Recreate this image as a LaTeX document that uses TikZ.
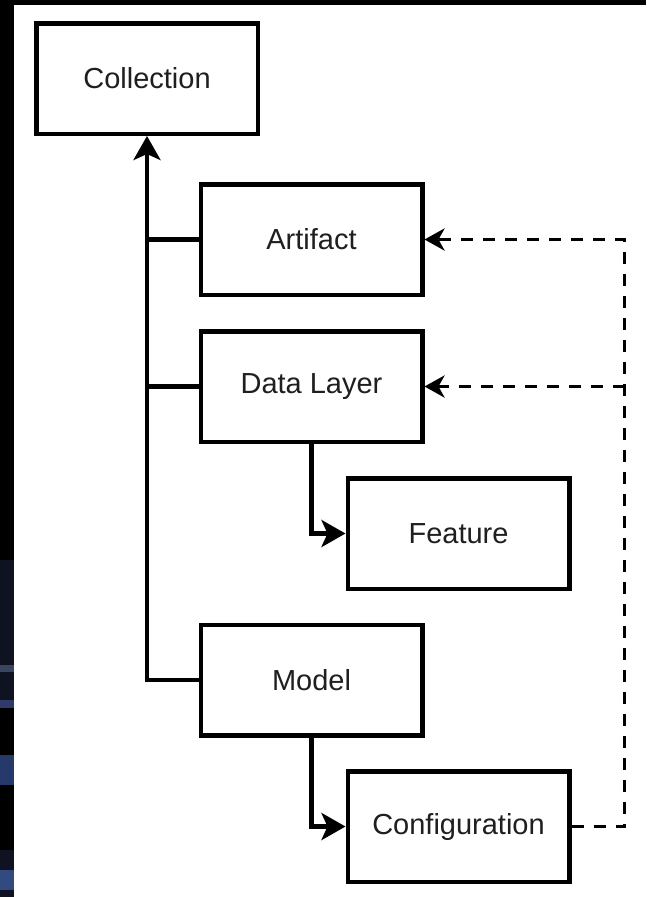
\documentclass[tikz,border=0pt]{standalone}
\usepackage{fontspec}
\setmainfont{Liberation Sans}
\usetikzlibrary{arrows.meta}

\definecolor{bandA}{HTML}{0F1220}
\definecolor{bandB}{HTML}{3A4560}
\definecolor{bandC}{HTML}{2D3A6A}
\definecolor{bandD}{HTML}{25396A}
\definecolor{bandE}{HTML}{334A80}

\tikzset{
  box/.style={draw, line width=4.5pt, minimum width=221.5pt, minimum height=110.5pt,
    inner sep=0pt, font=\fontsize{29}{34}\selectfont, text=black!88},
  tree/.style={line width=4.3pt, -{Stealth[length=24pt,width=27pt,inset=6pt]}},
  link/.style={line width=3.8pt, dash pattern=on 12pt off 10pt,
    -{Stealth[length=20pt,width=22pt,inset=6pt]}}
}

\begin{document}
\begin{tikzpicture}[x=1pt,y=-1pt]
\useasboundingbox (0,0) rectangle (646,897);
% background and the dark frame on the left
\fill[white] (0,0) rectangle (646,897);
\fill[black] (0,0) rectangle (646,5);
\fill[black] (0,0) rectangle (14,897);
\foreach \ya/\yb/\c in {560/665/bandA, 665/672/bandB, 672/700/bandA, 700/708/bandC,
    755/785/bandD, 850/870/bandA, 870/890/bandE, 890/897/bandA} {%
    \fill[\c] (0,\ya) rectangle (14,\yb);
}
% boxes
\foreach \n/\x/\y/\A in {col/147/78.5/Collection, art/311.5/239.5/Artifact,
    dat/311.5/386.5/Data Layer, fea/458.5/533.5/Feature,
    mod/311.5/680/Model, cfg/458.5/826.5/Configuration} {%
    \node[box] (\n) at (\x,\y) {\A};
}
% hierarchy
\draw[tree] (mod.west) -| (col.south);
\draw[line width=4.3pt] (art.west) -- (art.west -| col.south);
\draw[line width=4.3pt] (dat.west) -- (dat.west -| col.south);
\draw[tree] (dat.south) |- (fea.west);
\draw[tree] (mod.south) |- (cfg.west);
% configuration links
\draw[link] (cfg.east) -- ++(53,0) coordinate (turn) |- (art.east);
\draw[link] (turn |- dat.east) -- (dat.east);
\end{tikzpicture}
\end{document}
